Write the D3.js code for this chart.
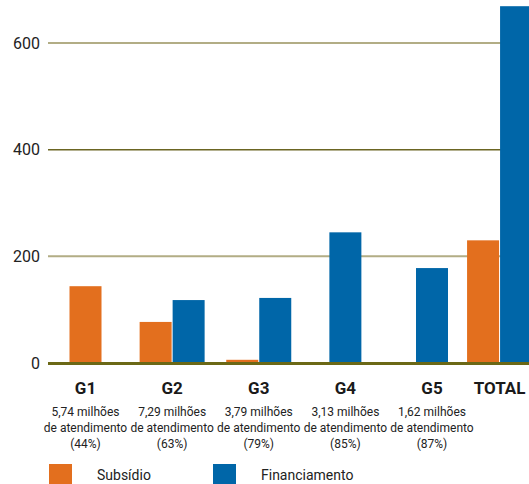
<!DOCTYPE html>
<html>
<head>
<meta charset="utf-8">
<script src="https://cdn.jsdelivr.net/npm/d3@7/dist/d3.min.js"></script>
<style>
  html, body { margin: 0; padding: 0; background: #fff; }
  svg { display: block; font-family: Roboto, "Liberation Sans", sans-serif; }
</style>
</head>
<body>
<svg id="chart" width="529" height="484"></svg>
<script>
// Groups and their values (Subsídio / Financiamento)
const categories = ["G1", "G2", "G3", "G4", "G5", "TOTAL"];
const subsidio = [144, 77, 6, 0, 0, 230];
const financiamento = [0, 118, 122, 245, 178, 669];
const atendimento = ["5,74 milhões", "7,29 milhões", "3,79 milhões", "3,13 milhões", "1,62 milhões", null];
const percentuais = ["(44%)", "(63%)", "(79%)", "(85%)", "(87%)", null];
const yTicks = [0, 200, 400, 600];
const seriesNames = ["Subsídio", "Financiamento"];
const colors = ["#e36f1e", "#0066a8"];

const svg = d3.select("#chart");
const W = 529;
const plotLeft = 48;

const y = d3.scaleLinear().domain([0, 600]).range([363, 43]);

// Group centres: regular spacing for G1–G5, the TOTAL group sits a bit closer
const xi = d3.scaleLinear().domain([0, 4]).range([85.5, 432]);
const groupX = i => i < 5 ? xi(i) : xi(4.78);
const barW = 32, gap = 1;

// Gridlines
const grid = svg.append("g");
yTicks.filter(t => t > 0).forEach(t => {
  const dark = t === 400;
  grid.append("line")
    .attr("x1", plotLeft).attr("x2", W)
    .attr("y1", y(t)).attr("y2", y(t))
    .attr("stroke", dark ? "#6b6522" : "#b2ad85")
    .attr("stroke-width", dark ? 1.5 : 2);
});

// Y axis labels
const yAxis = d3.axisLeft(y).tickValues(yTicks).tickSize(0).tickPadding(0);
const ya = svg.append("g").attr("transform", "translate(40,0)").call(yAxis);
ya.select(".domain").remove();
ya.selectAll("text")
  .attr("font-size", 16)
  .attr("font-family", "Roboto, 'Liberation Sans', sans-serif")
  .attr("fill", "#222");

// Bars
const series = [subsidio, financiamento];
categories.forEach((c, i) => {
  const present = series.map((s, k) => ({ k, v: s[i] })).filter(d => d.v > 0);
  const total = present.length * barW + (present.length - 1) * gap;
  const start = groupX(i) - total / 2;
  present.forEach((d, j) => {
    svg.append("rect")
      .attr("x", start + j * (barW + gap))
      .attr("y", y(d.v))
      .attr("width", barW)
      .attr("height", y(0) - y(d.v))
      .attr("fill", colors[d.k]);
  });
});

// Baseline
svg.append("line")
  .attr("x1", plotLeft).attr("x2", W)
  .attr("y1", y(0) + 0.5).attr("y2", y(0) + 0.5)
  .attr("stroke", "#6b6816").attr("stroke-width", 3);

// Category labels
categories.forEach((c, i) => {
  const cx = groupX(i);
  svg.append("text")
    .attr("x", cx).attr("y", 394)
    .attr("text-anchor", "middle")
    .attr("font-size", 17).attr("font-weight", "bold")
    .attr("fill", "#1a1a1a")
    .text(c);
  if (atendimento[i]) {
    const lines = [atendimento[i], "de atendimento", percentuais[i]];
    lines.forEach((t, k) => {
      svg.append("text")
        .attr("x", cx).attr("y", 416 + k * 16)
        .attr("text-anchor", "middle")
        .attr("font-size", 12)
        .attr("fill", "#222")
        .text(t);
    });
  }
});

// Legend
const legend = svg.append("g");
const legendX = [49, 213];
seriesNames.forEach((n, k) => {
  legend.append("rect")
    .attr("x", legendX[k]).attr("y", 464)
    .attr("width", 23).attr("height", 22)
    .attr("fill", colors[k]);
  legend.append("text")
    .attr("x", legendX[k] + 48).attr("y", 480)
    .attr("font-size", 14)
    .attr("fill", "#222")
    .text(n);
});
</script>
</body>
</html>
